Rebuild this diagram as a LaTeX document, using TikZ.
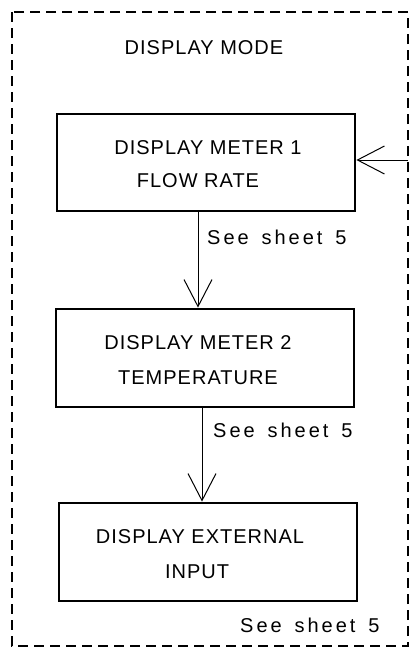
\documentclass[tikz,border=0pt]{standalone}
\usepackage{fontspec}
\setmainfont{Liberation Sans}[LetterSpace=5]
\newfontfamily\seefont{Liberation Sans}[LetterSpace=15,WordSpace=1.5]
\usetikzlibrary{arrows.meta}
\begin{document}
\begin{tikzpicture}[x=1pt,y=-1pt,
  box/.style={draw,line width=2.8pt,inner sep=0pt},
  lbl/.style={font=\fontsize{20}{20}\selectfont,inner sep=0pt,anchor=center},
  see/.style={font=\seefont\fontsize{20}{20}\selectfont,inner sep=0pt,anchor=west},
  conn/.style={line width=1pt,-{Straight Barb[length=27pt,width=28pt,line width=1pt]}},
  frame/.style={line width=1.4pt,dash pattern=on 10pt off 6pt}]
\useasboundingbox (0,0) rectangle (410,656);
\draw[frame] (12,12) rectangle (408,646);
\node[lbl] (title) at (204,48) {DISPLAY MODE};
\node[box,minimum width=298pt,minimum height=97pt] (b1) at (206,162.5) {};
\node[lbl] (t1a) at (208,148) {DISPLAY METER 1};
\node[lbl] (t1b) at (198,181) {FLOW RATE};
\node[box,minimum width=298pt,minimum height=98pt] (b2) at (205,358) {};
\node[lbl] (t2a) at (198,343) {DISPLAY METER 2};
\node[lbl] (t2b) at (198,378) {TEMPERATURE};
\node[box,minimum width=298pt,minimum height=98pt] (b3) at (208,552) {};
\node[lbl] (t3a) at (200,537) {DISPLAY EXTERNAL};
\node[lbl] (t3b) at (197,572) {INPUT};
\coordinate (in) at (408,160);
\draw[conn] (in) -- (b1.east |- in);
\draw[conn] (b1.south -| 198,0) -- (b2.north -| 198,0);
\draw[conn] (b2.south -| 202,0) -- (b3.north -| 202,0);
\node[see] (s1) at (207,237) {See sheet 5};
\node[see] (s2) at (213,430) {See sheet 5};
\node[see] (s3) at (240,625) {See sheet 5};
\end{tikzpicture}
\end{document}
